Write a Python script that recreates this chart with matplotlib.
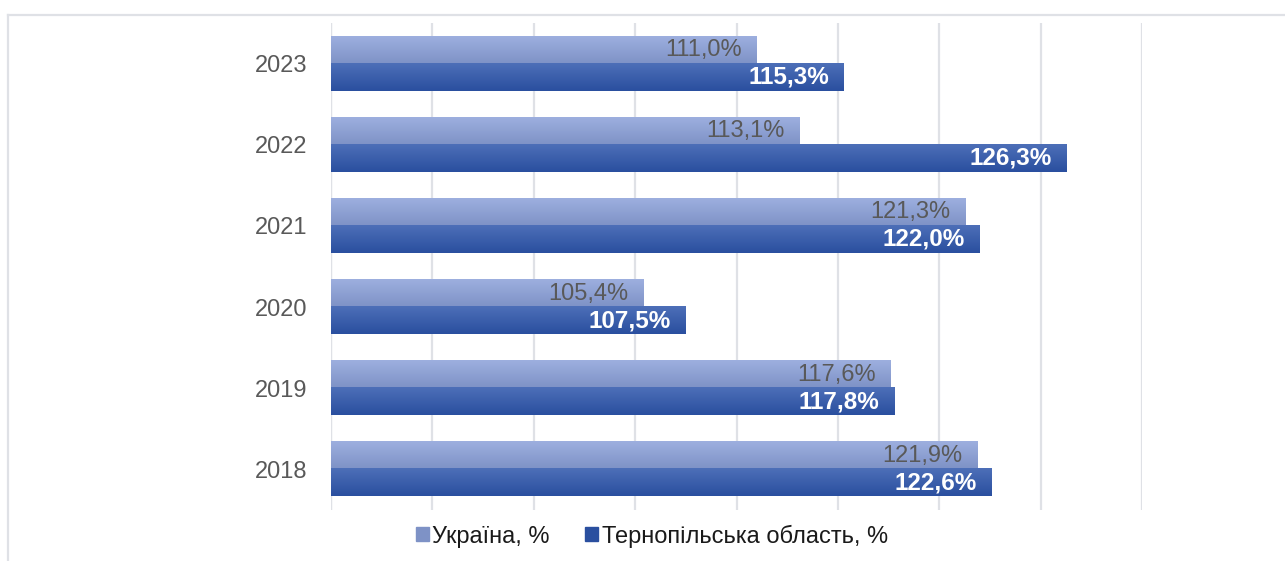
import matplotlib.pyplot as plt
import numpy as np
from matplotlib.colors import to_rgb
from matplotlib.lines import Line2D
from matplotlib.patches import Rectangle

plt.rcParams["font.family"] = ["Liberation Sans", "DejaVu Sans"]

years = ["2018", "2019", "2020", "2021", "2022", "2023"]
ukraine = [121.9, 117.6, 105.4, 121.3, 113.1, 111.0]
ternopil = [122.6, 117.8, 107.5, 122.0, 126.3, 115.3]
series_names = ["Україна, %", "Тернопільська область, %"]

LIGHT_TOP, LIGHT_BOT = "#9dafdf", "#7e92c6"
DARK_TOP, DARK_BOT = "#4d6fb8", "#2a4f9f"
GRID = "#dfe1e6"


def fmt(v):
    return f"{v:.1f}%".replace(".", ",")


fig = plt.figure(figsize=(12.85, 5.61), dpi=100)
ax = fig.add_axes([331 / 1285, 1 - 510 / 561, (1142 - 331) / 1285, (510 - 23) / 561])

y = np.arange(len(years))
h = 1 / 3
b1 = ax.barh(y + h / 2, ukraine, height=h, color=LIGHT_TOP, zorder=2)
b2 = ax.barh(y - h / 2, ternopil, height=h, color=DARK_TOP, zorder=2)

# vertical gradient on each bar (lighter on top)
for bars, top, bot in [(b1, LIGHT_TOP, LIGHT_BOT), (b2, DARK_TOP, DARK_BOT)]:
    t = np.linspace(0, 1, 64)[:, None]
    img = (np.array(to_rgb(bot)) * (1 - t) + np.array(to_rgb(top)) * t)[:, None, :]
    for b in bars:
        y0, hh = b.get_y(), b.get_height()
        ax.imshow(img, extent=[90, b.get_width(), y0, y0 + hh], aspect="auto",
                  origin="lower", zorder=2.5, interpolation="bilinear")

ax.set_xlim(90, 130)
ax.set_ylim(-0.5, len(years) - 0.5)

for b, v in zip(b1, ukraine):
    ax.text(v - 0.75, b.get_y() + b.get_height() / 2, fmt(v), ha="right",
            va="center", fontsize=17, color="#595959", zorder=3)
for b, v in zip(b2, ternopil):
    ax.text(v - 0.75, b.get_y() + b.get_height() / 2, fmt(v), ha="right",
            va="center", fontsize=17.5, color="white", fontweight="bold", zorder=3)

ax.set_xticks(np.arange(90, 131, 5))
ax.set_xticklabels([])
ax.tick_params(axis="x", length=0)
ax.grid(axis="x", color=GRID, linewidth=1.6, zorder=0)
ax.set_yticks(y)
ax.set_yticklabels(years, fontsize=17, color="#595959")
ax.tick_params(axis="y", length=0, pad=17)
for s in ["top", "right", "bottom", "left"]:
    ax.spines[s].set_visible(False)
ax.axvline(90, color=GRID, linewidth=1.6, zorder=1)

handles = [Rectangle((0, 0), 1, 1, color=LIGHT_BOT),
           Rectangle((0, 0), 1, 1, color=DARK_BOT)]
fig.legend(handles, series_names, loc="center", bbox_to_anchor=(652 / 1285, 1 - 536 / 561),
           ncol=2, frameon=False, fontsize=17, handlelength=0.55, handleheight=0.55,
           handletextpad=0.15, columnspacing=1.5, labelcolor="#1a1a1a")

# chart frame (clipped at right and bottom)
fig.add_artist(Line2D([8 / 1285, 1], [1 - 15 / 561] * 2, color=GRID, lw=1.6))
fig.add_artist(Line2D([8 / 1285] * 2, [0, 1 - 15 / 561], color=GRID, lw=1.6))

fig.savefig("out.png", dpi=100)
